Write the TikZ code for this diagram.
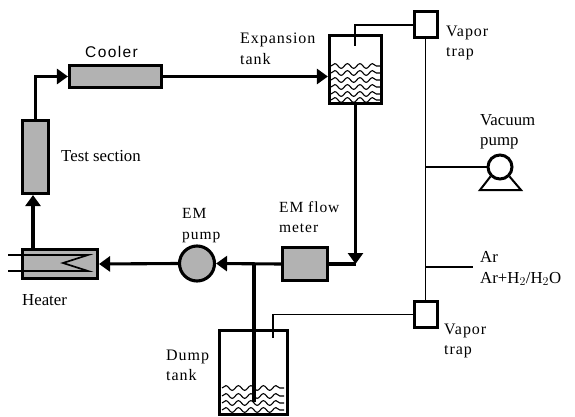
\documentclass[tikz,border=0pt]{standalone}
\usepackage{fontspec}
\setmainfont{Liberation Serif}
\newfontfamily\coolerfont[LetterSpace=9]{Liberation Sans}
\newfontfamily\widefont[LetterSpace=6]{Liberation Serif}
\usetikzlibrary{arrows.meta,decorations.pathmorphing}

\tikzset{
  pipe/.style={line width=3.1pt},
  thinpipe/.style={line width=1.7pt},
  flow/.style={pipe, -{Triangle[length=11pt,width=15pt]}},
  unit/.style={draw, line width=3.1pt, fill=black!30, inner sep=0pt},
  tank/.style={draw, line width=3.2pt, inner sep=0pt},
  trap/.style={draw, line width=3pt, fill=white, inner sep=0pt, minimum width=23pt, minimum height=26pt},
  tag/.style={anchor=west, align=left, inner sep=0pt, font=\fontsize{16.8}{20.5}\selectfont},
  water/.style={line width=1.1pt, decorate, decoration={snake, amplitude=2.4pt, segment length=12.5pt}}
}

\begin{document}
\begin{tikzpicture}[x=1pt, y=-1pt]
\useasboundingbox (0,0) rectangle (575,417);

% water levels
\foreach \y in {66,73,80,87,94,100}
  \draw[water] (331,\y) -- (381,\y);
\foreach \y in {388,396,403,410}
  \draw[water] (222,\y) -- (284,\y);

% main units
\node (test) [unit, minimum width=26pt, minimum height=73pt] at (35.5,157) {};
\node (cooler) [unit, minimum width=92pt, minimum height=22pt] at (115.5,76.5) {};
\node (heater) [unit, minimum width=75pt, minimum height=29pt] at (60,264) {};
\node (empump) [unit, circle, minimum size=35pt] at (197,263.5) {};
\node (meter) [unit, minimum width=45pt, minimum height=33pt] at (305,264) {};
\node (exptank) [tank, minimum width=52pt, minimum height=68pt] at (355.5,69.5) {};
\node (dumptank) [tank, minimum width=68pt, minimum height=84pt] at (253.5,372.5) {};
\node (traptop) [trap] at (425.5,25) {};
\node (trapbot) [trap] at (425.5,314.5) {};
\node (vacpump) [draw, circle, line width=3pt, fill=white, minimum size=24pt, inner sep=0pt] at (500,167) {};

\coordinate (heatertop) at (33,248);
\coordinate (expvent) at (355,46);
\coordinate (dumpvent) at (273,338);
\coordinate (dumpend) at (254,402);
\coordinate (arend) at (473,267);
\coordinate (vacleft) at (480,190);
\coordinate (vacright) at (521,190);

% loop
\draw[flow] (heatertop) -- (heatertop |- test.south);
\draw[flow] (test.north) |- (cooler.west);
\draw[flow] (cooler.east) -- (cooler.east -| exptank.west);
\draw[flow] (exptank.south) -- (exptank.south |- meter.east);
\draw[pipe] (meter.east) -- (meter.east -| exptank.south);
\draw[flow] (meter.west) -- (empump.east);
\draw[flow] (empump.west) -- (heater.east);
\draw[pipe] (dumpend |- meter.west) -- (dumpend);

% heater coil
\draw[thinpipe] (8,255) -- (88,255) -- (63,263) -- (88,271) -- (8,271);

% gas lines
\draw[thinpipe] (traptop.west) -| (expvent);
\draw[thinpipe] (trapbot.west) -| (dumpvent);
\draw[thinpipe] (traptop.south) -- (trapbot.north);
\draw[thinpipe] (traptop.south |- vacpump.west) -- (vacpump.west);
\draw[thinpipe] (traptop.south |- arend) -- (arend);
\draw[line width=2pt] (vacpump.south west) -- (vacleft) -- (vacright) -- (vacpump.south east);

% labels
\node (lcooler) [tag, font=\fontsize{15.5}{18}\coolerfont] at (85,52) {Cooler};
\node (ltest) [tag] at (61,156) {Test section};
\node (lexp) [tag, font=\fontsize{16}{21}\widefont] at (240,49) {Expansion\\tank};
\node (lheater) [tag] at (22,300) {Heater};
\node (lempump) [tag, font=\fontsize{15.5}{21}\widefont] at (182,225.5) {EM\\pump};
\node (lmeter) [tag, font=\fontsize{15.5}{20}\widefont] at (279,217) {EM flow\\meter};
\node (ltraptop) [tag, font=\fontsize{16}{20}\widefont] at (446,43) {Vapor\\trap};
\node (ltrapbot) [tag, font=\fontsize{16}{20}\widefont] at (444,341) {Vapor\\trap};
\node (lvac) [tag] at (480,132) {Vacuum\\pump};
\node (lar) [tag] at (480,268.5) {Ar\\Ar+H$_2$/H$_2$O};
\node (ldump) [tag, font=\fontsize{16}{19.5}\widefont] at (166,365.5) {Dump\\tank};
\end{tikzpicture}
\end{document}
